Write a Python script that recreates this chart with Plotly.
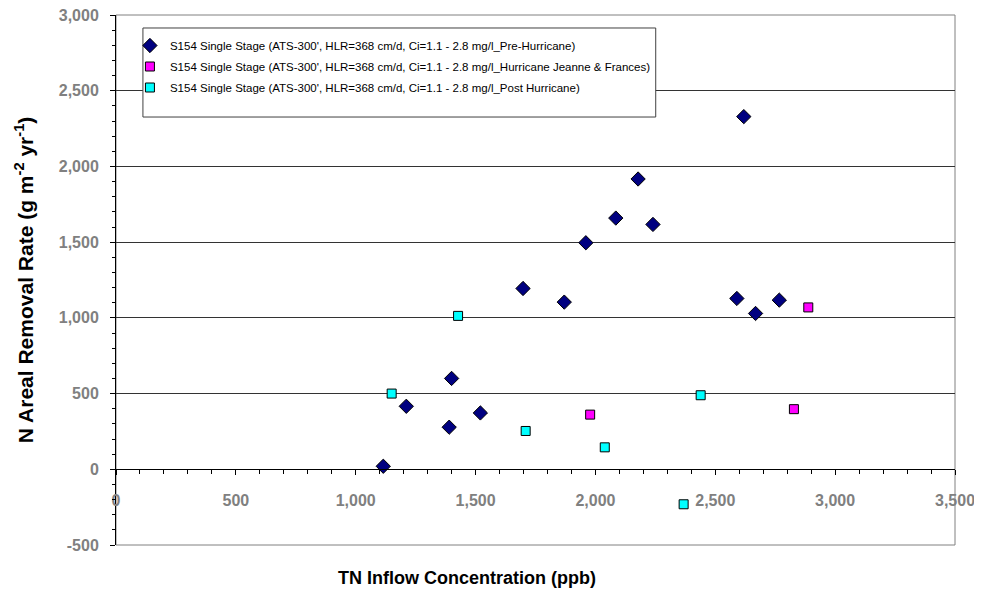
import plotly.graph_objects as go

# Pre-Hurricane
pre_x = [1115, 1211, 1390, 1400, 1520, 1698, 1870, 1960, 2085, 2178, 2240, 2590, 2619, 2668, 2767]
pre_y = [20, 416, 278, 600, 372, 1194, 1104, 1496, 1659, 1917, 1617, 1128, 2329, 1029, 1117]
# Hurricane Jeanne & Frances
hur_x = [1978, 2828, 2888]
hur_y = [361, 397, 1069]
# Post Hurricane
post_x = [1150, 1427, 1709, 2039, 2368, 2439]
post_y = [500, 1013, 253, 145, -231, 489]

names = [
    "S154 Single Stage (ATS-300', HLR=368 cm/d, Ci=1.1 - 2.8 mg/l_Pre-Hurricane)",
    "S154 Single Stage (ATS-300', HLR=368 cm/d, Ci=1.1 - 2.8 mg/l_Hurricane Jeanne & Frances)",
    "S154 Single Stage (ATS-300', HLR=368 cm/d, Ci=1.1 - 2.8 mg/l_Post Hurricane)",
]

x_ticks = [0, 500, 1000, 1500, 2000, 2500, 3000, 3500]
y_ticks = [-500, 0, 500, 1000, 1500, 2000, 2500, 3000]

FONT = "Liberation Sans, Arial, sans-serif"
GRAY = "#808080"

fig = go.Figure()
fig.add_trace(go.Scatter(x=pre_x, y=pre_y, mode="markers", name=names[0], legendgroup="a",
                         marker=dict(symbol="diamond", size=11, color="#000080",
                                     line=dict(color="black", width=1))))
fig.add_trace(go.Scatter(x=hur_x, y=hur_y, mode="markers", name=names[1], legendgroup="b",
                         marker=dict(symbol="square", size=9, color="#FF00FF",
                                     line=dict(color="black", width=1))))
fig.add_trace(go.Scatter(x=post_x, y=post_y, mode="markers", name=names[2], legendgroup="c",
                         marker=dict(symbol="square", size=9, color="#00FFFF",
                                     line=dict(color="black", width=1))))

ymin, ymax = -500, 3000
zero_pos = (0 - ymin) / (ymax - ymin)

fig.update_layout(
    width=974, height=584,
    margin=dict(l=108, r=25, t=7, b=47),
    paper_bgcolor="white", plot_bgcolor="white",
    font=dict(family=FONT, size=12, color="black"),
    showlegend=True,
    legend=dict(x=0.0166, y=0.9698, xanchor="left", yanchor="top",
                bgcolor="rgba(0,0,0,0)", borderwidth=0,
                font=dict(family=FONT, size=11.5, color="black"),
                traceorder="grouped", tracegroupgap=2,
                itemwidth=30),
    xaxis=dict(range=[0, 3500], tickvals=x_ticks, ticktext=[f"{v:,}" for v in x_ticks],
               anchor="free", position=zero_pos,
               showline=True, linecolor="black", linewidth=1,
               ticks="outside", ticklen=5, tickcolor="black",
               minor=dict(dtick=100, ticks="outside", ticklen=4, tickcolor="black"),
               showgrid=False, zeroline=False,
               ticklabelstandoff=12, ticklabeloverflow="allow",
               tickfont=dict(family=FONT, size=16, color=GRAY, weight="bold")),
    yaxis=dict(range=[ymin, ymax], tickvals=y_ticks, ticktext=[f"{v:,}" for v in y_ticks],
               showline=True, linecolor="black", linewidth=1, mirror=False,
               ticks="outside", ticklen=5, tickcolor="black",
               minor=dict(dtick=100, ticks="outside", ticklen=3, tickcolor="black"),
               showgrid=True, gridcolor="#333333", gridwidth=1, zeroline=False,
               ticklabelstandoff=8, ticklabeloverflow="allow",
               tickfont=dict(family=FONT, size=16, color=GRAY, weight="bold"),
               automargin=False),
)

# plot-area frame (gray)
fig.add_shape(type="rect", xref="paper", yref="paper", x0=0, x1=1, y0=0, y1=1,
              line=dict(color=GRAY, width=1), layer="below")
# legend box
fig.add_shape(type="rect", xref="paper", yref="paper", x0=0.0321, x1=0.6433, y0=0.8075, y1=0.9755,
              line=dict(color="#404040", width=1), fillcolor="white", layer="above")

# axis titles
fig.add_annotation(text="<b>TN Inflow Concentration (ppb)</b>", xref="paper", yref="paper",
                   x=0.4185, y=-0.0623, xanchor="center", yanchor="middle", showarrow=False,
                   font=dict(family=FONT, size=18, color="black"))
fig.add_annotation(text="<b>N Areal Removal Rate (g m<sup>-2</sup> yr<sup>-1</sup>)</b>",
                   xref="paper", yref="paper", x=-0.1095, y=0.5, textangle=-90,
                   xanchor="center", yanchor="middle", showarrow=False,
                   font=dict(family=FONT, size=21, color="black"))

fig.write_html("out.html")
